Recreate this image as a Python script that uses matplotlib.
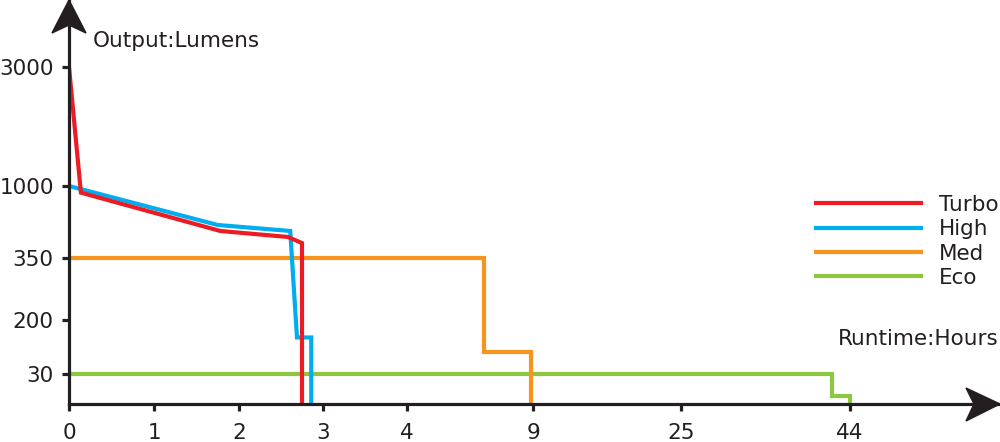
import matplotlib
matplotlib.use("Agg")
import matplotlib.pyplot as plt
from matplotlib.patches import Polygon
import numpy as np

plt.rcParams['font.family'] = ['DejaVu Sans']

# axis ticks (hours / lumens) and where they sit on the drawn axis
x_ticks = [0, 1, 2, 3, 4, 9, 25, 44]
x_tick_px = [0, 85, 170, 254, 338, 464, 612, 781]
y_ticks = [0, 30, 200, 350, 1000, 3000]
y_tick_px = [0, 30, 84, 146, 218, 337]

# runtime curves
turbo_h = [0, 0.14, 1.78, 2.58, 2.75, 2.75]
turbo_lm = [3000, 940, 594, 540, 485, 0]
high_h = [0, 1.75, 2.61, 2.69, 2.86, 2.86]
high_lm = [1000, 648, 594, 145, 145, 0]
med_h = [0, 7.05, 7.05, 8.92, 8.92]
med_lm = [350, 350, 100, 100, 0]
eco_h = [0, 42.0, 42.0, 44, 44]
eco_lm = [30, 30, 8, 8, 0]

series = [
    ('Turbo', turbo_h, turbo_lm, '#ED1C24'),
    ('High', high_h, high_lm, '#00AEEF'),
    ('Med', med_h, med_lm, '#F7941D'),
    ('Eco', eco_h, eco_lm, '#8DC63F'),
]


def piecewise(vals, px):
    vals = np.asarray(vals, float)
    px = np.asarray(px, float)

    def interp(v, a, b):
        v = np.asarray(v, float)
        out = np.interp(v, a, b)
        s_hi = (b[-1] - b[-2]) / (a[-1] - a[-2])
        s_lo = (b[1] - b[0]) / (a[1] - a[0])
        out = np.where(v > a[-1], b[-1] + (v - a[-1]) * s_hi, out)
        out = np.where(v < a[0], b[0] + (v - a[0]) * s_lo, out)
        return out

    return (lambda v: interp(v, vals, px)), (lambda p: interp(p, px, vals))


fx, ix = piecewise(x_ticks, x_tick_px)
fy, iy = piecewise(y_ticks, y_tick_px)

W, H = 1000, 442
INK = '#231F20'
FS = 15.5

fig = plt.figure(figsize=(10, 4.42), dpi=100)
ax = fig.add_axes([69 / W, (H - 404) / H, (W - 69) / W, 404 / H])
ax.set_xscale('function', functions=(fx, ix))
ax.set_yscale('function', functions=(fy, iy))
ax.set_xlim(0, float(ix(931)))
ax.set_ylim(0, float(iy(404)))

for name, h, lm, color in reversed(series):
    ax.plot(h, lm, color=color, lw=3, label=name, solid_joinstyle='miter')

for side in ['top', 'right']:
    ax.spines[side].set_visible(False)
for side in ['left', 'bottom']:
    ax.spines[side].set_linewidth(2.3)
    ax.spines[side].set_color(INK)

ax.set_xticks(x_ticks)
ax.set_xticklabels([str(t) for t in x_ticks])
ax.set_yticks(y_ticks[1:])
ax.set_yticklabels([str(t) for t in y_ticks[1:]])
ax.minorticks_off()
ax.tick_params(axis='x', length=5, width=2.3, color=INK, pad=9,
               labelsize=FS, labelcolor=INK)
ax.tick_params(axis='y', length=5, width=2.3, color=INK, pad=6,
               labelsize=FS, labelcolor=INK)

# arrow heads
fig.add_artist(Polygon([(69 / W, 1), (52 / W, (H - 33) / H), (69 / W, (H - 25) / H),
                        (86 / W, (H - 33) / H)], closed=True, color=INK,
                       transform=fig.transFigure))
fig.add_artist(Polygon([(1.0, (H - 404) / H), (966 / W, (H - 388) / H),
                        (974 / W, (H - 404) / H), (966 / W, (H - 421) / H)],
                       closed=True, color=INK, transform=fig.transFigure))

fig.text(93 / W, (H - 41) / H, 'Output:Lumens', fontsize=FS, color=INK,
         va='center', ha='left')
fig.text(999 / W, (H - 339) / H, 'Runtime:Hours', fontsize=FS, color=INK,
         va='center', ha='right')

handles, labels = ax.get_legend_handles_labels()
ax.legend(handles[::-1], labels[::-1], loc='upper left',
          bbox_to_anchor=(816 / W, (H - 195) / H), bbox_transform=fig.transFigure,
          frameon=False, fontsize=FS, handlelength=4.9, handletextpad=0.8,
          labelspacing=0.2, borderpad=0, borderaxespad=0, labelcolor=INK)

fig.savefig('out.png', dpi=100)
